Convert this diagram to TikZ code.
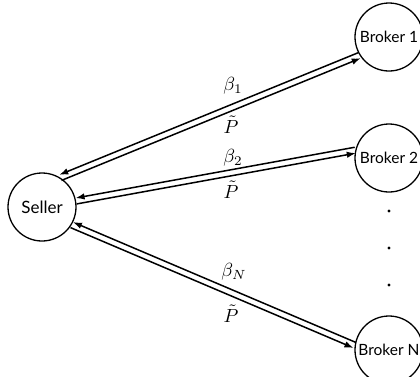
\documentclass[tikz,border=0pt]{standalone}
\usepackage{fontspec}
\setsansfont{Lato}
\usetikzlibrary{arrows.meta,calc}
\begin{document}
\begin{tikzpicture}[x=1pt,y=-1pt,
  party/.style={circle,draw,line width=1.3pt,minimum size=68pt,inner sep=0pt,
    font=\sffamily\fontsize{15.5}{18}\selectfont},
  link/.style={line width=1.5pt,-{Latex[length=9pt,width=6.5pt]}},
  lbl/.style={inner sep=0pt,scale=1.9},
  dotmark/.style={circle,fill,inner sep=0pt,minimum size=3.4pt},
  % offset of each line of a pair from the pair's middle
  gap/.store in=\pairgap, gap=3pt]
\useasboundingbox (0,0) rectangle (420,376);
\clip (0,0) rectangle (420,376);

% parties
\node[party,font=\sffamily\fontsize{17}{20}\selectfont] (s) at (42,207) {Seller};
\node[party] (b1) at (389,37)  {Broker 1};
\node[party] (b2) at (389,158) {Broker 2};
\node[party] (bn) at (389,350) {Broker N};

% ellipsis between Broker 2 and Broker N
\node[dotmark] (d1) at (389,211) {};
\node[dotmark] (d2) at (389,248) {};
\node[dotmark] (d3) at (389,285) {};

% each pair: upper line carries the price back to the seller,
% lower line carries the offer out to the broker
% Seller <-> Broker 1
\draw[link] ($(b1.212.5)!\pairgap!-90:(s.58.9)$) -- ($(s.58.9)!\pairgap!90:(b1.212.5)$);
\draw[link] ($(s.58.9)!\pairgap!-90:(b1.212.5)$) -- ($(b1.212.5)!\pairgap!90:(s.58.9)$);
% Seller <-> Broker 2
\draw[link] ($(b2.167.6)!\pairgap!-90:(s.10.5)$) -- ($(s.10.5)!\pairgap!90:(b2.167.6)$);
\draw[link] ($(s.10.5)!\pairgap!-90:(b2.167.6)$) -- ($(b2.167.6)!\pairgap!90:(s.10.5)$);
% Seller <-> Broker N
\draw[link] ($(bn.172.4)!\pairgap!-90:(s.-31.3)$) -- ($(s.-31.3)!\pairgap!90:(bn.172.4)$);
\draw[link] ($(s.-31.3)!\pairgap!-90:(bn.172.4)$) -- ($(bn.172.4)!\pairgap!90:(s.-31.3)$);

% offer and price labels
\node[lbl] (l1a) at (233,86)  {$\beta_1$};
\node[lbl] (l1b) at (231,125) {$\tilde{P}$};
\node[lbl] (l2a) at (233,158) {$\beta_2$};
\node[lbl] (l2b) at (231,190) {$\tilde{P}$};
\node[lbl] (lna) at (234,272) {$\beta_N$};
\node[lbl] (lnb) at (231,314) {$\tilde{P}$};
\end{tikzpicture}
\end{document}
